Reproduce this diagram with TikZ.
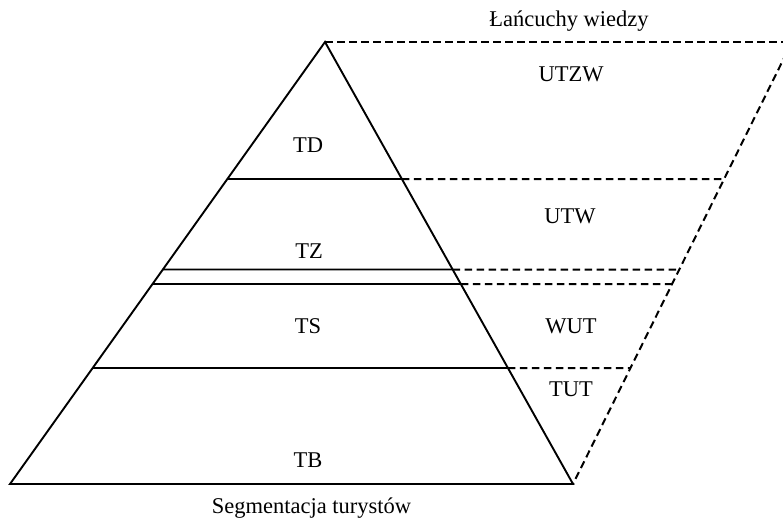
\documentclass[tikz,border=0pt]{standalone}
\usepackage{fontspec}
\setmainfont{Liberation Serif}
\begin{document}
\begin{tikzpicture}[x=1pt,y=-1pt,
  solid line/.style={line width=1.9pt},
  dash line/.style={line width=2pt,dash pattern=on 7.5pt off 4.5pt},
  lbl/.style={font=\fontsize{22.5}{26}\selectfont, inner sep=0pt, anchor=base}]
\useasboundingbox (0,0) rectangle (783,518);
% pyramid corners
\coordinate (A) at (325,42);
\coordinate (BL) at (10,484);
\coordinate (BR) at (573,484);
\coordinate (TR) at (792,42);
% helper far points for the level lines
\coordinate (f1l) at (0,179);   \coordinate (f1r) at (800,179);
\coordinate (f2l) at (0,269.5); \coordinate (f2r) at (800,269.5);
\coordinate (f3l) at (0,284);   \coordinate (f3r) at (800,284);
\coordinate (f4l) at (0,368);   \coordinate (f4r) at (800,368);
% level coordinates on the pyramid edges and on the dashed slanted line
\coordinate (L1) at (intersection of f1l--f1r and A--BL);
\coordinate (R1) at (intersection of f1l--f1r and A--BR);
\coordinate (D1) at (intersection of f1l--f1r and TR--BR);
\coordinate (L2) at (intersection of f2l--f2r and A--BL);
\coordinate (R2) at (intersection of f2l--f2r and A--BR);
\coordinate (D2) at (intersection of f2l--f2r and TR--BR);
\coordinate (L3) at (intersection of f3l--f3r and A--BL);
\coordinate (R3) at (intersection of f3l--f3r and A--BR);
\coordinate (D3) at (intersection of f3l--f3r and TR--BR);
\coordinate (L4) at (intersection of f4l--f4r and A--BL);
\coordinate (R4) at (intersection of f4l--f4r and A--BR);
\coordinate (D4) at (intersection of f4l--f4r and TR--BR);
\draw[solid line, line join=miter] (A) -- (BL) -- (BR) -- cycle;
\draw[solid line] (L1) -- (R1);
\draw[solid line] (L2) -- (R2);
\draw[solid line] (L3) -- (R3);
\draw[solid line] (L4) -- (R4);
\draw[dash line] (A) -- (TR);
\draw[dash line] (TR) -- (BR);
\draw[dash line] (R1) -- (D1);
\draw[dash line] (R2) -- (D2);
\draw[dash line] (R3) -- (D3);
\draw[dash line] (R4) -- (D4);
% labels (anchored at baseline)
\node[lbl] (lw) at (569,26.7) {Łańcuchy wiedzy};
\node[lbl] (utzw) at (571,81.7) {UTZW};
\node[lbl] (td) at (308,153) {TD};
\node[lbl] (utw) at (570,224) {UTW};
\node[lbl] (tz) at (309,258.3) {TZ};
\node[lbl] (ts) at (308,333) {TS};
\node[lbl] (wut) at (571,333) {WUT};
\node[lbl] (tut) at (571,396) {TUT};
\node[lbl] (tb) at (308,467.3) {TB};
\node[lbl] (seg) at (311.5,513.3) {Segmentacja turystów};
\end{tikzpicture}
\end{document}
